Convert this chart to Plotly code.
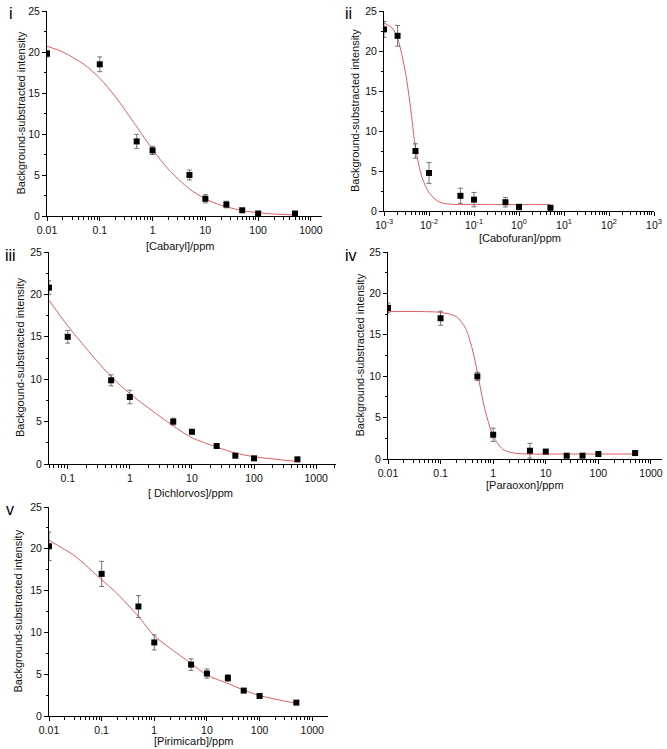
import plotly.graph_objects as go

W, H = 667, 749

# ---------------- data ----------------
# i  Cabaryl
cab_x = [0.01, 0.1, 0.5, 1, 5, 10, 25, 50, 100, 500]
cab_y = [19.8, 18.5, 9.1, 8.0, 5.0, 2.1, 1.4, 0.7, 0.3, 0.3]
cab_e = [0.4, 0.9, 0.85, 0.5, 0.6, 0.5, 0.4, 0.2, 0.2, 0.2]
cab_fx = [0.01, 0.02, 0.05, 0.1, 0.2, 0.5, 1, 2, 5, 10, 20, 50, 100, 200, 500]
cab_fy = [20.7, 20.0, 18.5, 16.8, 14.5, 10.9, 8.1, 5.7, 3.3, 2.1, 1.29, 0.67, 0.40, 0.24, 0.12]

# ii Cabofuran
cbf_x = [0.001, 0.002, 0.005, 0.01, 0.05, 0.1, 0.5, 1, 5]
cbf_y = [22.7, 21.9, 7.5, 4.75, 1.9, 1.42, 1.1, 0.5, 0.4]
cbf_e = [1.0, 1.3, 0.9, 1.3, 0.95, 0.9, 0.6, 0.35, 0.2]
cbf_fx = [0.001, 0.0015, 0.002, 0.003, 0.004, 0.005, 0.007, 0.01, 0.015, 0.02, 0.03, 0.05, 0.1, 1, 5]
cbf_fy = [23.5, 22.9, 21.6, 17.3, 12.4, 7.9, 4.2, 2.3, 1.3, 1.0, 0.85, 0.8, 0.8, 0.8, 0.8]

# iii Dichlorvos
dic_x = [0.05, 0.1, 0.5, 1, 5, 10, 25, 50, 100, 500]
dic_y = [20.8, 15.0, 9.87, 7.9, 5.0, 3.8, 2.12, 0.98, 0.67, 0.55]
dic_e = [0.8, 0.75, 0.65, 0.8, 0.4, 0.2, 0.15, 0.15, 0.1, 0.15]
dic_fx = [0.05, 0.1, 0.2, 0.3, 0.5, 1, 2, 5, 10, 25, 50, 100, 500]
dic_fy = [19.3, 16.3, 13.6, 12.1, 10.3, 8.3, 6.6, 4.5, 3.1, 2.0, 1.3, 0.86, 0.3]

# iv Paraoxon
par_x = [0.01, 0.1, 0.5, 1, 5, 10, 25, 50, 100, 500]
par_y = [18.25, 17.0, 9.97, 2.93, 1.0, 0.9, 0.4, 0.4, 0.6, 0.72]
par_e = [0.6, 0.85, 0.5, 0.8, 0.9, 0.2, 0.1, 0.1, 0.1, 0.1]
par_fx = [0.01, 0.05, 0.1, 0.2, 0.3, 0.4, 0.5, 0.7, 1, 1.5, 2, 3, 5, 20, 100, 500]
par_fy = [17.8, 17.8, 17.7, 17.2, 15.75, 13.3, 10.5, 5.9, 2.8, 1.2, 0.84, 0.65, 0.6, 0.6, 0.6, 0.6]

# v Pirimicarb
pir_x = [0.01, 0.1, 0.5, 1, 5, 10, 25, 50, 100, 500]
pir_y = [20.3, 17.0, 13.1, 8.8, 6.15, 5.08, 4.55, 3.04, 2.4, 1.6]
pir_e = [1.7, 1.5, 1.3, 0.9, 0.7, 0.55, 0.4, 0.2, 0.15, 0.15]
pir_fx = [0.01, 0.03, 0.1, 0.2, 0.5, 1, 2, 5, 10, 25, 50, 100, 500]
pir_fy = [21.0, 19.2, 16.3, 14.6, 11.9, 9.6, 8.1, 6.3, 4.9, 3.9, 3.1, 2.45, 1.5]

dec_labels = ["0.01", "0.1", "1", "10", "100", "1000"]
dec_vals = [0.01, 0.1, 1, 10, 100, 1000]
pow_labels = ["10<sup>-3</sup>", "10<sup>-2</sup>", "10<sup>-1</sup>", "10<sup>0</sup>",
              "10<sup>1</sup>", "10<sup>2</sup>", "10<sup>3</sup>"]
pow_vals = [1e-3, 1e-2, 1e-1, 1, 10, 100, 1000]
y_ticks = [0, 5, 10, 15, 20, 25]

panels = [
    dict(lab="i", x=cab_x, y=cab_y, e=cab_e, fx=cab_fx, fy=cab_fy,
         box=(47, 322, 11, 216), xr=[-2, 3.21], xt="[Cabaryl]/ppm",
         yt="Background-substracted intensity", labpos=(7, 3), xtpos=(180, 246), ytx=20,
         tv=dec_vals, tt=dec_labels),
    dict(lab="ii", x=cbf_x, y=cbf_y, e=cbf_e, fx=cbf_fx, fy=cbf_fy,
         box=(384, 654, 11, 211), xr=[-3, 3], xt="[Cabofuran]/ppm",
         yt="Background-substracted intensity", labpos=(343, 3), xtpos=(520, 238), ytx=355,
         tv=pow_vals, tt=pow_labels),
    dict(lab="iii", x=dic_x, y=dic_y, e=dic_e, fx=dic_fx, fy=dic_fy,
         box=(49, 336, 252, 464), xr=[-1.3015, 3.32], xt="[ Dichlorvos]/ppm",
         yt="Backgound-substracted intensity", labpos=(3, 245), xtpos=(190, 493), ytx=20,
         tv=dec_vals[1:], tt=dec_labels[1:]),
    dict(lab="iv", x=par_x, y=par_y, e=par_e, fx=par_fx, fy=par_fy,
         box=(388, 662, 252, 459), xr=[-2, 3.21], xt="[Paraoxon]/ppm",
         yt="Background-substracted intensity", labpos=(343, 245), xtpos=(525, 485), ytx=360,
         tv=dec_vals, tt=dec_labels),
    dict(lab="v", x=pir_x, y=pir_y, e=pir_e, fx=pir_fx, fy=pir_fy,
         box=(49, 328, 507, 716), xr=[-2, 3.3], xt="[Pirimicarb]/ppm",
         yt="Background-substracted intensity", labpos=(4, 499), xtpos=(193, 741), ytx=17,
         tv=dec_vals, tt=dec_labels),
]

FONT = "Liberation Sans, Arial, sans-serif"
fig = go.Figure()
annotations = []


def minor_vals(lo, hi):
    out = []
    for d in range(lo, hi + 1):
        for m in range(2, 10):
            out.append(m * 10.0 ** d)
    return out


n = len(panels)
for i, p in enumerate(panels, start=1):
    xa = "x" if i == 1 else f"x{i}"
    ya = "y" if i == 1 else f"y{i}"
    xm = f"x{n + i}"          # overlay axis for minor ticks
    x0, x1, yt, yb = p["box"]
    fig.add_trace(go.Scatter(
        x=p["fx"], y=p["fy"], mode="lines",
        line=dict(color="#e35d5d", width=1, shape="spline", smoothing=0.8),
        xaxis=xa, yaxis=ya, showlegend=False, hoverinfo="skip"))
    fig.add_trace(go.Scatter(
        x=p["x"], y=p["y"], mode="markers",
        marker=dict(symbol="square", size=6, color="black"),
        error_y=dict(type="data", array=p["e"], visible=True, color="#555555", thickness=0.8, width=2.5),
        xaxis=xa, yaxis=ya, showlegend=False))
    # invisible trace so the minor-tick overlay axis is drawn
    fig.add_trace(go.Scatter(x=[p["x"][0]], y=[p["y"][0]], mode="markers", marker=dict(opacity=0),
                             xaxis=xm, yaxis=ya, showlegend=False, hoverinfo="skip"))

    axcommon = dict(showgrid=False, zeroline=False, automargin=False,
                    tickcolor="black", tickwidth=1,
                    tickfont=dict(family=FONT, size=10.5, color="#111"))
    fig.layout["xaxis" if i == 1 else f"xaxis{i}"] = dict(
        type="log", range=p["xr"], domain=[x0 / W, x1 / W], anchor=ya,
        showline=True, linecolor="black", linewidth=1, ticks="outside",
        tickmode="array", tickvals=p["tv"], ticktext=p["tt"], ticklen=4, **axcommon)
    lo = int(round(p["xr"][0] - 0.5))
    fig.layout[f"xaxis{n + i}"] = dict(
        type="log", range=p["xr"], domain=[x0 / W, x1 / W], anchor=ya, overlaying=xa,
        showline=False, ticks="outside", tickmode="array",
        tickvals=minor_vals(lo, 3), showticklabels=False, ticklen=2.5, **axcommon)
    fig.layout["yaxis" if i == 1 else f"yaxis{i}"] = dict(
        range=[0, 25], domain=[1 - yb / H, 1 - yt / H], anchor=xa,
        showline=True, linecolor="black", linewidth=1, ticks="outside",
        tickmode="array", tickvals=y_ticks, ticklen=4,
        minor=dict(ticks="outside", ticklen=2.5, dtick=2.5, tickcolor="black", tickwidth=1, showgrid=False),
        **axcommon)

    annotations.append(dict(text=p["lab"], x=p["labpos"][0] / W, y=1 - p["labpos"][1] / H,
                            xref="paper", yref="paper", xanchor="left", yanchor="top", showarrow=False,
                            font=dict(family=FONT, size=16, color="black")))
    annotations.append(dict(text=p["xt"], x=p["xtpos"][0] / W, y=1 - p["xtpos"][1] / H,
                            xref="paper", yref="paper", xanchor="center", yanchor="middle", showarrow=False,
                            font=dict(family=FONT, size=11, color="#111")))
    annotations.append(dict(text=p["yt"], x=p["ytx"] / W, y=1 - ((yt + yb) / 2) / H,
                            xref="paper", yref="paper", xanchor="center", yanchor="middle", showarrow=False,
                            textangle=-90, font=dict(family=FONT, size=11, color="#111")))

fig.update_layout(template="none", width=W, height=H, margin=dict(l=0, r=0, t=0, b=0, pad=0),
                  paper_bgcolor="white", plot_bgcolor="white", annotations=annotations,
                  font=dict(family=FONT))

fig.write_html("out.html", config={"displayModeBar": False},
               post_script="document.body.style.margin='0';document.body.style.padding='0';"
                           "document.body.style.overflow='hidden';")
